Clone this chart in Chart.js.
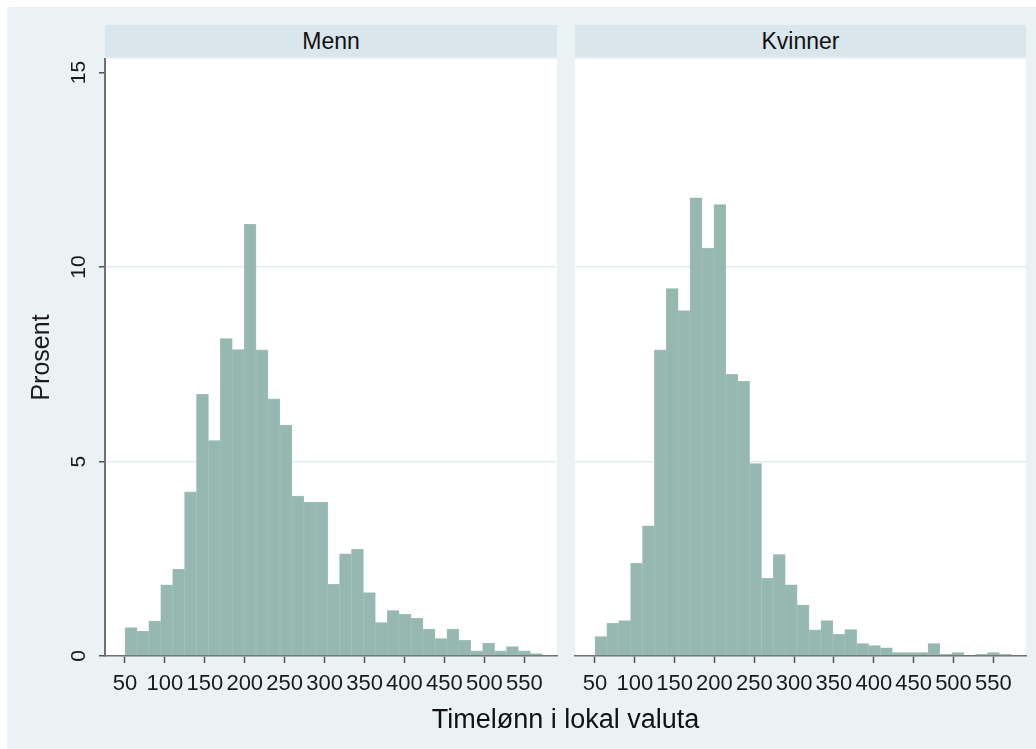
<!DOCTYPE html>
<html>
<head>
<meta charset="utf-8">
<script src="https://cdn.jsdelivr.net/npm/chart.js@4"></script>
<style>
  body { margin: 0; background: #fff; font-family: "Liberation Sans", Arial, sans-serif; }
  #wrap { position: relative; width: 1036px; height: 749px; overflow: hidden; }
  #bg { position: absolute; left: 7px; top: 7px; width: 1029px; height: 742px; background: #eaf2f3; }
  canvas { position: absolute; top: 0; }
  .strip { position: absolute; top: 25px; height: 32px; background: #d9e6ec;
           text-align: center; font-size: 23px; line-height: 32px; color: #111; }
  #xtitle { position: absolute; left: 105px; width: 921px; top: 703px; text-align: center;
            font-size: 27px; line-height: 32px; color: #111; }
</style>
</head>
<body>
<div id="wrap">
  <div id="bg"></div>
  <div class="strip" style="left:105px;width:452px;">Menn</div>
  <div class="strip" style="left:575px;width:451px;">Kvinner</div>
  <canvas id="left" width="566" height="749" style="left:0"></canvas>
  <canvas id="right" width="470" height="749" style="left:566px"></canvas>
  <div id="xtitle">Timelønn i lokal valuta</div>
</div>
<script>
// histogram bins (Timelønn), percent per bin
const binStart = 50;
const binWidth = 14.93;
const menn = [0.73, 0.64, 0.90, 1.83, 2.23, 4.22, 6.73, 5.54, 8.16, 7.88, 11.1, 7.87,
  6.61, 5.94, 4.11, 3.96, 3.96, 1.84, 2.63, 2.74, 1.63, 0.86, 1.17, 1.07, 0.97, 0.69,
  0.45, 0.69, 0.40, 0.13, 0.33, 0.13, 0.24, 0.13, 0.06];
const kvinner = [0.50, 0.84, 0.91, 2.38, 3.35, 7.87, 9.45, 8.88, 11.78, 10.48, 11.61, 7.24,
  7.06, 4.95, 2.00, 2.61, 1.83, 1.31, 0.67, 0.91, 0.56, 0.68, 0.32, 0.27, 0.21, 0.09,
  0.09, 0.09, 0.32, 0.04, 0.09, 0, 0.04, 0.09, 0.04];
const xTicks = [50, 100, 150, 200, 250, 300, 350, 400, 450, 500, 550];
const yTicks = [0, 5, 10, 15];
const gridAt = [5, 10];

const barColor = "#97b8b0";
const axisColor = "#707070";
const textColor = "#1a1a1a";

function toPoints(vals) {
  return vals.map((v, i) => ({ x: binStart + (i + 0.5) * binWidth, y: v }));
}

// white plot region
const panelBg = {
  id: "panelBg",
  beforeDraw(chart) {
    const a = chart.chartArea, ctx = chart.ctx;
    ctx.save();
    ctx.fillStyle = "#ffffff";
    ctx.fillRect(a.left, a.top, a.right - a.left, a.bottom - a.top);
    ctx.restore();
  }
};

function makeChart(id, vals, showY) {
  const ctx = document.getElementById(id).getContext("2d");
  return new Chart(ctx, {
    type: "bar",
    data: {
      datasets: [{
        data: toPoints(vals),
        backgroundColor: barColor,
        borderColor: "#a3c2ba",
        borderWidth: 0.6,
        barPercentage: 1,
        categoryPercentage: 1,
        grouped: false
      }]
    },
    options: {
      responsive: false,
      animation: false,
      layout: { padding: showY ? { left: 20, top: 59, right: 9, bottom: 0 }
                               : { left: 9, top: 59, right: 10, bottom: 0 } },
      plugins: { legend: { display: false }, tooltip: { enabled: false } },
      scales: {
        x: {
          type: "linear",
          min: 25, max: 591,
          offset: false,
          afterBuildTicks: s => { s.ticks = xTicks.map(v => ({ value: v })); },
          afterFit: s => { s.height = 93; },
          grid: { offset: false, drawOnChartArea: false, tickLength: 7, tickColor: "#555", tickWidth: 1.5 },
          border: { color: axisColor, width: 1.5 },
          ticks: { autoSkip: false, maxRotation: 0, padding: 8, color: textColor,
                   font: { family: "Liberation Sans", size: 22 } }
        },
        y: {
          min: 0, max: 15.35,
          afterBuildTicks: s => { s.ticks = yTicks.map(v => ({ value: v })); },
          afterFit: s => { s.width = showY ? 85 : 0; },
          grid: {
            color: c => gridAt.includes(c.tick && c.tick.value) ? "#e3edef" : "rgba(0,0,0,0)",
            lineWidth: 1.5,
            drawTicks: showY, tickLength: 6, tickColor: "#555", tickWidth: 1.5
          },
          border: { display: showY, color: axisColor, width: 2 },
          ticks: { display: showY, minRotation: 90, maxRotation: 90, crossAlign: "center",
                   padding: 8, color: textColor, font: { family: "Liberation Sans", size: 21 } },
          title: { display: showY, text: "Prosent", color: textColor, padding: { top: 7, bottom: 0 },
                   font: { family: "Liberation Sans", size: 25 } }
        }
      }
    },
    plugins: [panelBg]
  });
}

makeChart("left", menn, true);
makeChart("right", kvinner, false);
</script>
</body>
</html>
